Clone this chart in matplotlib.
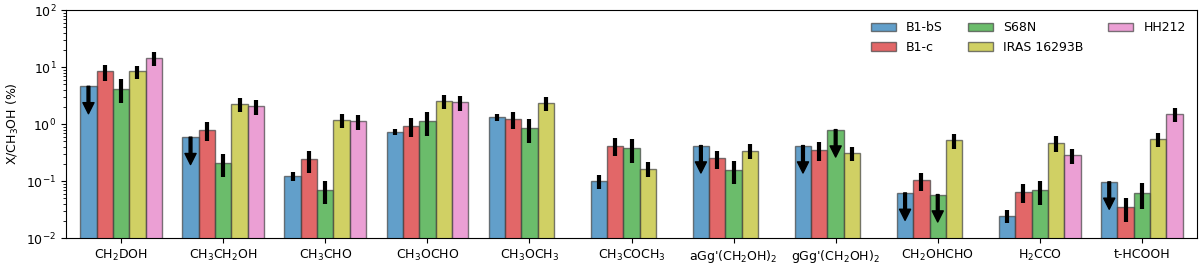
import numpy as np
import matplotlib
matplotlib.use("Agg")
import matplotlib.pyplot as plt

# Molecules (x categories)
molecules = ["CH$_2$DOH", "CH$_3$CH$_2$OH", "CH$_3$CHO", "CH$_3$OCHO", "CH$_3$OCH$_3$",
             "CH$_3$COCH$_3$", "aGg'(CH$_2$OH)$_2$", "gGg'(CH$_2$OH)$_2$", "CH$_2$OHCHO",
             "H$_2$CCO", "t-HCOOH"]

sources = ["B1-bS", "B1-c", "S68N", "IRAS 16293B", "HH212"]

# X/CH3OH (%) per source, NaN = not available
b1bs = [4.6, 0.59, 0.122, 0.73, 1.31, 0.099, 0.42, 0.42, 0.062, 0.0246, 0.097]
b1c = [8.4, 0.80, 0.24, 0.935, 1.24, 0.42, 0.25, 0.355, 0.103, 0.065, 0.0355]
s68n = [4.2, 0.21, 0.070, 1.13, 0.84, 0.374, 0.158, 0.80, 0.058, 0.070, 0.063]
iras = [8.4, 2.27, 1.19, 2.56, 2.36, 0.164, 0.34, 0.314, 0.52, 0.47, 0.553]
hh212 = [14.6, 2.04, 1.13, 2.40, np.nan, np.nan, np.nan, np.nan, np.nan, 0.286, 1.52]

# errors (NaN = upper limit or no data)
b1bs_err = [np.nan, np.nan, 0.02, 0.09, 0.17, 0.027, np.nan, np.nan, np.nan, 0.0065, np.nan]
b1c_err = [2.7, 0.3, 0.1, 0.33, 0.42, 0.15, 0.09, 0.13, 0.037, 0.023, 0.016]
s68n_err = [1.9, 0.09, 0.03, 0.5, 0.37, 0.17, 0.07, np.nan, np.nan, 0.032, 0.031]
iras_err = [2.2, 0.65, 0.34, 0.7, 0.65, 0.048, 0.1, 0.09, 0.16, 0.14, 0.155]
hh212_err = [4.0, 0.6, 0.33, 0.7, np.nan, np.nan, np.nan, np.nan, np.nan, 0.085, 0.43]

# upper limits
b1bs_ul = [True, True, False, False, False, False, True, True, True, False, True]
b1c_ul = [False] * 11
s68n_ul = [False, False, False, False, False, False, False, True, True, False, False]
iras_ul = [False] * 11
hh212_ul = [False] * 11

values = [b1bs, b1c, s68n, iras, hh212]
errors = [b1bs_err, b1c_err, s68n_err, iras_err, hh212_err]
limits = [b1bs_ul, b1c_ul, s68n_ul, iras_ul, hh212_ul]
colors = ["tab:blue", "tab:red", "tab:green", "tab:olive", "tab:pink"]

x = np.arange(len(molecules))
width = 0.16

plt.rcParams["font.size"] = 9

fig, ax = plt.subplots(figsize=(12, 2.66), dpi=100)
fig.subplots_adjust(left=0.055, right=0.9975, bottom=0.105, top=0.962)

for i, (src, vals, errs, uls, c) in enumerate(zip(sources, values, errors, limits, colors)):
    pos = x + (i - 2) * width
    vals = np.array(vals, dtype=float)
    errs = np.array(errs, dtype=float)
    ax.bar(pos, vals, width, color=c, alpha=0.7, edgecolor="#444444", linewidth=1, label=src)
    ok = ~np.isnan(errs)
    ax.errorbar(pos[ok], vals[ok], yerr=errs[ok], fmt="none", ecolor="k",
                elinewidth=3, capsize=0)
    for p, v, ul in zip(pos, vals, uls):
        if ul:
            ax.annotate("", xy=(p, v * 0.33), xytext=(p, v),
                        arrowprops=dict(facecolor="k", edgecolor="k", width=2,
                                        headwidth=8, headlength=8, shrink=0))

ax.set_yscale("log")
ax.set_ylim(1e-2, 1e2)
ax.set_xlim(-0.54, 10.54)
ax.set_xticks(x)
ax.set_xticklabels(molecules)
ax.set_ylabel("X/CH$_3$OH (%)")
ax.legend(ncol=3, frameon=False, loc="upper right")

plt.savefig("out.png", dpi=100)
